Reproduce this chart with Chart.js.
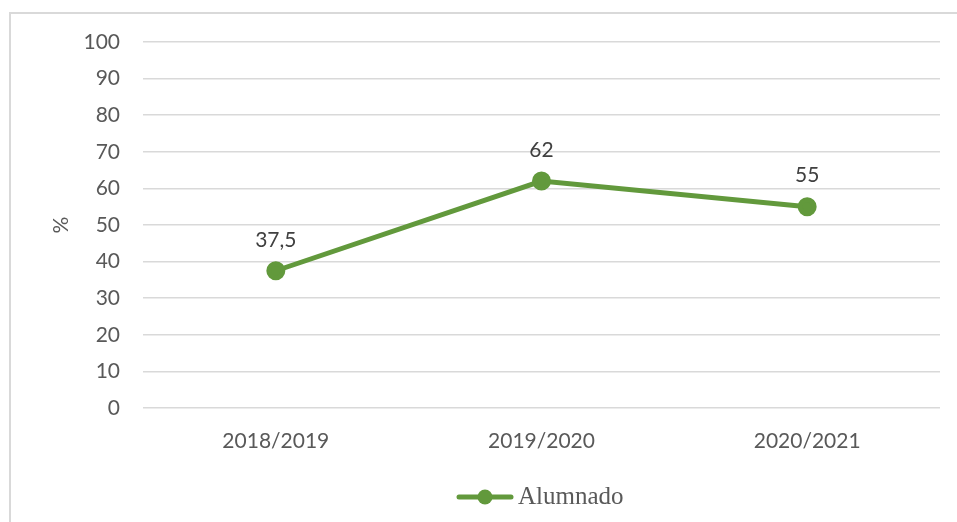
<!DOCTYPE html>
<html>
<head>
<meta charset="utf-8">
<script src="https://cdn.jsdelivr.net/npm/chart.js@4/dist/chart.umd.min.js"></script>
<style>
  html, body { margin: 0; padding: 0; background: #ffffff; }
  #wrap { position: relative; width: 957px; height: 522px; overflow: hidden; }
  #frame { position: absolute; left: 9px; top: 12px; width: 1000px; height: 600px;
           border: 2px solid #d9d9d9; pointer-events: none; box-sizing: border-box; }
  canvas { display: block; }
</style>
</head>
<body>
<div id="wrap">
  <canvas id="chart" width="957" height="522"></canvas>
  <div id="frame"></div>
</div>
<script>
// School years and share of students (%)
const cursos = ['2018/2019', '2019/2020', '2020/2021'];
const alumnado = [37.5, 62, 55];
const yTicks = [0, 10, 20, 30, 40, 50, 60, 70, 80, 90, 100];

const GREEN = '#62993c';
const GREY_TEXT = '#595959';
const GRID = '#d9d9d9';

// Writes each value above its point, with a decimal comma
const valueLabels = {
  id: 'valueLabels',
  afterDatasetsDraw(chart) {
    const ctx = chart.ctx;
    const meta = chart.getDatasetMeta(0);
    const values = chart.data.datasets[0].data;
    ctx.save();
    ctx.font = '21px Lato';
    ctx.fillStyle = '#404040';
    ctx.textAlign = 'center';
    ctx.textBaseline = 'middle';
    meta.data.forEach((pt, i) => {
      ctx.fillText(String(values[i]).replace('.', ','), pt.x, pt.y - 31);
    });
    ctx.restore();
  }
};

// Series key under the axis: line with a dot, then the series name
const seriesKey = {
  id: 'seriesKey',
  afterDraw(chart) {
    const ctx = chart.ctx;
    const ds = chart.data.datasets[0];
    const y = 497;
    const x0 = 457, x1 = 513;
    ctx.save();
    ctx.strokeStyle = ds.borderColor;
    ctx.lineWidth = 5;
    ctx.lineCap = 'round';
    ctx.beginPath(); ctx.moveTo(x0 + 2, y); ctx.lineTo(x1 - 2, y); ctx.stroke();
    ctx.fillStyle = ds.borderColor;
    ctx.beginPath(); ctx.arc((x0 + x1) / 2, y, 7.5, 0, Math.PI * 2); ctx.fill();
    ctx.font = '25px "Liberation Serif", serif';
    ctx.fillStyle = GREY_TEXT;
    ctx.textAlign = 'left';
    ctx.textBaseline = 'middle';
    ctx.fillText(ds.label, 518, y);
    ctx.restore();
  }
};

new Chart(document.getElementById('chart'), {
  type: 'line',
  data: {
    labels: cursos,
    datasets: [{
      label: 'Alumnado',
      data: alumnado,
      borderColor: GREEN,
      backgroundColor: GREEN,
      borderWidth: 5,
      pointRadius: 7,
      pointHoverRadius: 7,
      pointBackgroundColor: GREEN,
      pointBorderColor: GREEN,
      tension: 0
    }]
  },
  options: {
    responsive: false,
    animation: false,
    layout: { padding: { top: 42, right: 17, bottom: 54, left: 0 } },
    plugins: {
      tooltip: { enabled: false },
      legend: { display: false }
    },
    scales: {
      x: {
        offset: true,
        grid: { display: false, drawTicks: false, offset: true },
        border: { display: false },
        ticks: { color: GREY_TEXT, font: { family: 'Lato', size: 21 }, padding: 21 },
        afterFit(scale) { scale.height = 60; }
      },
      y: {
        min: 0,
        max: 100,
        afterBuildTicks(scale) { scale.ticks = yTicks.map(v => ({ value: v })); },
        grid: { color: GRID, lineWidth: 1.5, drawTicks: false },
        border: { display: false },
        ticks: { color: GREY_TEXT, font: { family: 'Lato', size: 21 }, padding: 23 },
        title: {
          display: true,
          text: '%',
          color: GREY_TEXT,
          font: { family: 'Lato', size: 21 },
          padding: { top: 49, bottom: 0 }
        },
        afterFit(scale) { scale.width = 143; }
      }
    }
  },
  plugins: [valueLabels, seriesKey]
});
</script>
</body>
</html>
